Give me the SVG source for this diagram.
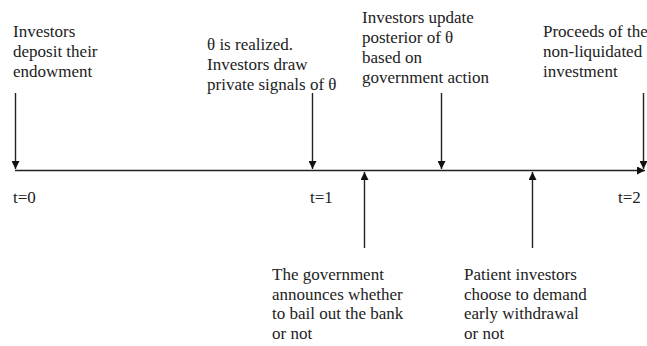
<svg xmlns="http://www.w3.org/2000/svg" width="647" height="346" viewBox="0 0 647 346">
<style>
.ln{stroke:#222;stroke-width:1.4;fill:none}
</style>
<defs>
<marker id="ah" viewBox="0 0 10 10" refX="10" refY="5" markerWidth="8" markerHeight="8" markerUnits="userSpaceOnUse" orient="auto">
<path d="M0,0 L10,5 L0,10 Z" fill="#111"/>
</marker>
</defs>
<rect width="647" height="346" fill="#fff"/>
<g id="connectors">
<line class="ln" x1="15" y1="170.5" x2="645" y2="170.5" marker-end="url(#ah)"/>
<line class="ln" x1="15.5" y1="93" x2="15.5" y2="169" marker-end="url(#ah)"/>
<line class="ln" x1="312.5" y1="93" x2="312.5" y2="169" marker-end="url(#ah)"/>
<line class="ln" x1="441.5" y1="93" x2="441.5" y2="169" marker-end="url(#ah)"/>
<line class="ln" x1="643.5" y1="93" x2="643.5" y2="169" marker-end="url(#ah)"/>
<line class="ln" x1="364.5" y1="248" x2="364.5" y2="172" marker-end="url(#ah)"/>
<line class="ln" x1="532.5" y1="248" x2="532.5" y2="172" marker-end="url(#ah)"/>
</g>
<g font-family="'Liberation Serif', 'DejaVu Serif', serif" font-size="17" fill="#222">
<g id="n-deposit">
<text x="13" y="37">Investors</text>
<text x="13" y="57">deposit their</text>
<text x="13" y="77">endowment</text>
</g>
<g id="n-theta">
<text x="207" y="50">θ is realized.</text>
<text x="207" y="70">Investors draw</text>
<text x="207" y="90">private signals of θ</text>
</g>
<g id="n-update">
<text x="362" y="23">Investors update</text>
<text x="362" y="43">posterior of θ</text>
<text x="362" y="63">based on</text>
<text x="362" y="83">government action</text>
</g>
<g id="n-proceeds">
<text x="543" y="37">Proceeds of the</text>
<text x="543" y="57">non-liquidated</text>
<text x="543" y="77">investment</text>
</g>
<g id="n-government">
<text x="272" y="280">The government</text>
<text x="272" y="299.5">announces whether</text>
<text x="272" y="319">to bail out the bank</text>
<text x="272" y="338.5">or not</text>
</g>
<g id="n-patient">
<text x="464" y="280">Patient investors</text>
<text x="464" y="299.5">choose to demand</text>
<text x="464" y="319">early withdrawal</text>
<text x="464" y="338.5">or not</text>
</g>
<g id="t-labels">
<text x="13" y="203">t=0</text>
<text x="310" y="203">t=1</text>
<text x="618" y="203">t=2</text>
</g>
</g>
</svg>
